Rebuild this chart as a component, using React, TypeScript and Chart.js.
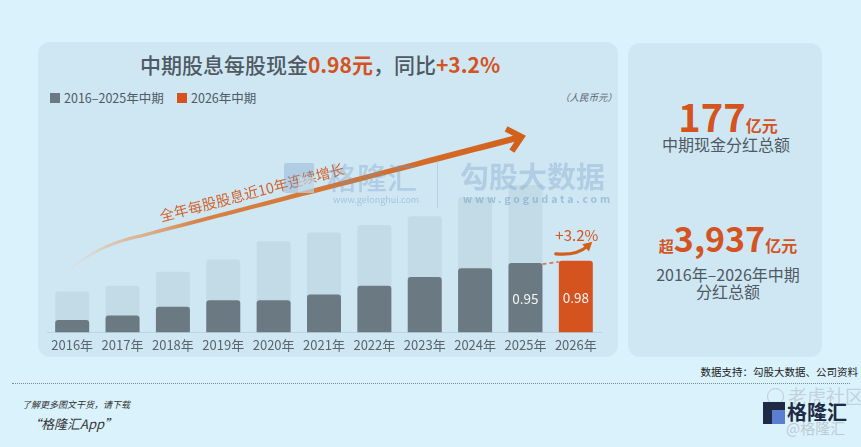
import React, { useEffect, useRef } from 'react';
import { Chart, registerables } from 'chart.js';
Chart.register(...registerables);

// ---------- data ----------
const years = ['2016年', '2017年', '2018年', '2019年', '2020年', '2021年', '2022年', '2023年', '2024年', '2025年', '2026年'];
const interimDps = [0.17, 0.23, 0.35, 0.44, 0.44, 0.52, 0.64, 0.76, 0.88, 0.95, 0.98];
const fullYearDps = [0.56, 0.64, 0.83, 1.0, 1.25, 1.37, 1.47, 1.59, 1.85, 2.02, null];
const labelledIdx = [9, 10];
const yoyText = '+3.2%';
const trendText = '全年每股股息近10年连续增长';
// trend arrow anchors as [category index, value]
const trendStart = [-0.15, 0.78];
const trendCtrl = [0.39, 1.18];
const trendJoin = [1.35, 1.32];
const trendEnd = [8.98, 2.69];
const yMax = 2.8;

// ---------- style ----------
const FONT = '"Noto Sans CJK SC", "Noto Sans", sans-serif';
const BG = '#daf2fc';
const PANEL = '#cfe7f2';
const DARK = '#6b7983';
const LIGHT = '#c3dbe6';
const ORANGE = '#d4531f';
const GRAY_TXT = '#4e5963';
const WM = 'rgba(112,152,200,0.33)';

const annotPlugin = {
  id: 'annot',
  afterDatasetsDraw(chart: any) {
    const { ctx, scales } = chart;
    const xs = scales.x, ys = scales.y;
    const P = (p: number[]) => [xs.getPixelForValue(p[0]), ys.getPixelForValue(p[1])];
    const meta = chart.getDatasetMeta(0);
    ctx.save();

    // ---- trend arrow ----
    const S = P(trendStart), C = P(trendCtrl), J = P(trendJoin), E = P(trendEnd);
    const L = Math.hypot(E[0] - J[0], E[1] - J[1]);
    const d = [(E[0] - J[0]) / L, (E[1] - J[1]) / L];
    const n = [-d[1], d[0]];
    const Ein = [E[0] - 3 * d[0], E[1] - 3 * d[1]];
    const pts: number[][] = [];
    for (let k = 0; k <= 24; k++) {
      const t = k / 24;
      pts.push([
        (1 - t) * (1 - t) * S[0] + 2 * (1 - t) * t * C[0] + t * t * J[0],
        (1 - t) * (1 - t) * S[1] + 2 * (1 - t) * t * C[1] + t * t * J[1],
      ]);
    }
    for (let k = 1; k <= 40; k++) {
      const t = k / 40;
      pts.push([J[0] + (Ein[0] - J[0]) * t, J[1] + (Ein[1] - J[1]) * t]);
    }
    const left: number[][] = [], right: number[][] = [];
    const N = pts.length - 1;
    for (let k = 0; k <= N; k++) {
      const a = pts[Math.max(0, k - 1)], b = pts[Math.min(N, k + 1)];
      const l = Math.hypot(b[0] - a[0], b[1] - a[1]) || 1;
      const nx = -(b[1] - a[1]) / l, ny = (b[0] - a[0]) / l;
      const hw = 0.8 + 2.4 * (k / N);
      left.push([pts[k][0] + nx * hw, pts[k][1] + ny * hw]);
      right.push([pts[k][0] - nx * hw, pts[k][1] - ny * hw]);
    }
    const g = ctx.createLinearGradient(S[0], S[1], E[0], E[1]);
    g.addColorStop(0, 'rgba(236,216,196,0)');
    g.addColorStop(0.1, 'rgba(222,190,160,0.7)');
    g.addColorStop(0.3, 'rgba(214,125,60,0.95)');
    g.addColorStop(1, '#d2601a');
    ctx.beginPath();
    left.forEach((p, i) => (i ? ctx.lineTo(p[0], p[1]) : ctx.moveTo(p[0], p[1])));
    for (let i = right.length - 1; i >= 0; i--) ctx.lineTo(right[i][0], right[i][1]);
    ctx.closePath();
    ctx.fillStyle = g;
    ctx.fill();
    // head
    ctx.beginPath();
    ctx.moveTo(Ein[0] - 13 * d[0] - 11.5 * n[0], Ein[1] - 13 * d[1] - 11.5 * n[1]);
    ctx.lineTo(Ein[0], Ein[1]);
    ctx.lineTo(Ein[0] - 13 * d[0] + 11.5 * n[0], Ein[1] - 13 * d[1] + 11.5 * n[1]);
    ctx.lineWidth = 6;
    ctx.lineJoin = 'miter';
    ctx.strokeStyle = '#d2601a';
    ctx.stroke();

    // text along arrow
    const Q = [J[0] + (E[0] - J[0]) * 0.3 - 14 * n[0], J[1] + (E[1] - J[1]) * 0.3 - 14 * n[1]];
    ctx.save();
    ctx.translate(Q[0], Q[1]);
    ctx.rotate(Math.atan2(d[1], d[0]));
    ctx.font = `14.5px ${FONT}`;
    ctx.fillStyle = '#d3622c';
    ctx.textAlign = 'center';
    ctx.textBaseline = 'middle';
    ctx.fillText(trendText, 0, 0);
    ctx.restore();

    // ---- value labels ----
    ctx.font = `13.5px ${FONT}`;
    ctx.fillStyle = '#f3f5f6';
    ctx.textAlign = 'center';
    ctx.textBaseline = 'middle';
    labelledIdx.forEach((i) => {
      const el = meta.data[i];
      ctx.fillText(interimDps[i].toFixed(2), el.x, (el.y + el.base) / 2 + 1);
    });

    // ---- dashed connector ----
    const a = meta.data[labelledIdx[0]], b = meta.data[labelledIdx[1]];
    ctx.beginPath();
    ctx.setLineDash([4, 3]);
    ctx.moveTo(a.x + a.width / 2, a.y + 1);
    ctx.lineTo(b.x - b.width / 2, b.y + 1);
    ctx.lineWidth = 1.8;
    ctx.strokeStyle = 'rgba(205,105,65,0.85)';
    ctx.stroke();
    ctx.setLineDash([]);

    // ---- +3.2% with swoosh ----
    ctx.font = `15px ${FONT}`;
    ctx.fillStyle = ORANGE;
    ctx.fillText(yoyText, b.x + 1, b.y - 26);
    const T = [b.x - 20, b.y - 7], K = [b.x + 12, b.y - 15], Cc = [b.x + 1, b.y - 5];
    ctx.beginPath();
    ctx.moveTo(T[0], T[1]);
    ctx.quadraticCurveTo(Cc[0], Cc[1], K[0], K[1]);
    ctx.lineWidth = 3.2;
    ctx.lineCap = 'round';
    ctx.strokeStyle = '#d2601a';
    ctx.stroke();
    const hd = [K[0] - Cc[0], K[1] - Cc[1]];
    const hl = Math.hypot(hd[0], hd[1]);
    const u = [hd[0] / hl, hd[1] / hl], v = [-u[1], u[0]];
    ctx.beginPath();
    ctx.moveTo(K[0] + 6 * u[0], K[1] + 6 * u[1]);
    ctx.lineTo(K[0] - 3 * u[0] + 5 * v[0], K[1] - 3 * u[1] + 5 * v[1]);
    ctx.lineTo(K[0] - 3 * u[0] - 5 * v[0], K[1] - 3 * u[1] - 5 * v[1]);
    ctx.closePath();
    ctx.fillStyle = '#d2601a';
    ctx.fill();

    ctx.restore();
  },
};

export default function App() {
  const ref = useRef<HTMLCanvasElement>(null);
  useEffect(() => {
    const chart = new Chart(ref.current as HTMLCanvasElement, {
      type: 'bar',
      data: {
        labels: years,
        datasets: [
          {
            label: '中期',
            data: interimDps,
            backgroundColor: interimDps.map((_, i) => (i === years.length - 1 ? ORANGE : DARK)),
            grouped: false,
            order: 1,
            borderRadius: 3,
            categoryPercentage: 0.675,
            barPercentage: 1,
          } as any,
          {
            label: '全年',
            data: fullYearDps,
            backgroundColor: LIGHT,
            grouped: false,
            order: 2,
            borderRadius: 3,
            categoryPercentage: 0.675,
            barPercentage: 1,
          } as any,
        ],
      },
      options: {
        animation: false,
        responsive: false,
        maintainAspectRatio: false,
        layout: { padding: { top: 8, bottom: 2, left: 9, right: 17 } },
        plugins: { legend: { display: false }, tooltip: { enabled: false } },
        scales: {
          x: {
            grid: { display: false, drawTicks: false },
            border: { display: true, color: 'rgba(180,205,218,0.7)', width: 1 },
            ticks: { color: '#5a646c', font: { size: 13, family: FONT }, padding: 5 },
          },
          y: { display: false, min: 0, max: yMax },
        },
      },
      plugins: [annotPlugin],
    });
    return () => chart.destroy();
  }, []);

  const abs = (s: React.CSSProperties): React.CSSProperties => ({ position: 'absolute', whiteSpace: 'nowrap', ...s });

  return (
    <div style={{ position: 'absolute', left: 0, top: 0, width: 861, height: 447, background: BG, overflow: 'hidden', fontFamily: FONT }}>
      {/* left panel */}
      <div style={abs({ left: 38, top: 42, width: 580, height: 315, background: PANEL, borderRadius: 12 })} />
      {/* right panel */}
      <div style={abs({ left: 628, top: 43, width: 194, height: 314, background: PANEL, borderRadius: 12 })} />

      {/* title */}
      <div style={abs({ left: 0, width: 640, top: 50, textAlign: 'center', fontSize: 21, lineHeight: '28px', fontWeight: 500, color: GRAY_TXT })}>
        中期股息每股现金<span style={{ color: ORANGE, fontWeight: 700 }}>0.98元</span>，同比<span style={{ color: ORANGE, fontWeight: 700 }}>+3.2%</span>
      </div>

      {/* legend */}
      <div style={abs({ left: 50, top: 93, width: 10, height: 10, background: DARK })} />
      <div style={abs({ left: 64, top: 90, fontSize: 12.5, lineHeight: '16px', color: GRAY_TXT })}>2016–2025年中期</div>
      <div style={abs({ left: 177, top: 93, width: 10, height: 10, background: ORANGE })} />
      <div style={abs({ left: 191, top: 90, fontSize: 12.5, lineHeight: '16px', color: GRAY_TXT })}>2026年中期</div>
      <div style={abs({ left: 560, top: 90, fontSize: 9.5, lineHeight: '14px', color: '#5a646c', fontStyle: 'italic' })}>（人民币元）</div>

      {/* chart */}
      <canvas ref={ref} width={580} height={240} style={{ position: 'absolute', left: 38, top: 120, width: 580, height: 240 }} />

      {/* watermarks */}
      <div style={abs({ left: 284, top: 163, width: 30, height: 30, background: WM, borderRadius: 2 })} />
      <div style={abs({ left: 298, top: 177, width: 16, height: 16, background: 'rgba(207,231,242,0.55)' })} />
      <div style={abs({ left: 327, top: 160, fontSize: 30, lineHeight: '32px', color: WM, fontWeight: 500 })}>格隆汇</div>
      <div style={abs({ left: 333, top: 194, fontSize: 9, lineHeight: '11px', color: 'rgba(112,152,200,0.45)' })}>www.gelonghui.com</div>
      <div style={abs({ left: 437, top: 160, width: 1, height: 48, background: 'rgba(140,175,210,0.4)' })} />
      <div style={abs({ left: 460, top: 160, fontSize: 29, lineHeight: '30px', color: WM, fontWeight: 700 })}>勾股大数据</div>
      <div style={abs({ left: 463, top: 193, fontSize: 10.5, lineHeight: '12px', color: 'rgba(112,152,200,0.5)', fontWeight: 700, letterSpacing: 2.9 })}>www.gogudata.com</div>

      {/* right panel text */}
      <div style={abs({ left: 628, width: 200, top: 97, textAlign: 'center', lineHeight: '38px', color: ORANGE, fontWeight: 700 })}>
        <span style={{ fontSize: 38 }}>177</span>
        <span style={{ fontSize: 16 }}>亿元</span>
      </div>
      <div style={abs({ left: 628, width: 196, top: 134, textAlign: 'center', fontSize: 16, lineHeight: '20px', color: GRAY_TXT })}>中期现金分红总额</div>
      <div style={abs({ left: 628, width: 200, top: 221, textAlign: 'center', lineHeight: '34px', color: ORANGE, fontWeight: 700 })}>
        <span style={{ fontSize: 15 }}>超</span>
        <span style={{ fontSize: 34 }}>3,937</span>
        <span style={{ fontSize: 16 }}>亿元</span>
      </div>
      <div style={abs({ left: 628, width: 200, top: 264, textAlign: 'center', fontSize: 16, lineHeight: '20px', color: GRAY_TXT })}>2016年–2026年中期</div>
      <div style={abs({ left: 628, width: 200, top: 281, textAlign: 'center', fontSize: 16, lineHeight: '20px', color: GRAY_TXT })}>分红总额</div>

      {/* footer */}
      <div style={abs({ right: 3, top: 365, fontSize: 10.5, lineHeight: '14px', color: '#222' })}>数据支持：勾股大数据、公司资料</div>
      <div style={abs({ left: 12, top: 383, width: 838, height: 0, borderTop: '1px dotted #7d8a90' })} />
      <div style={abs({ left: 22, top: 399, fontSize: 9, lineHeight: '12px', color: '#333', fontStyle: 'italic' })}>了解更多图文干货，请下载</div>
      <div style={abs({ left: 28, top: 416, fontSize: 13, lineHeight: '16px', color: '#333', fontStyle: 'italic' })}>“格隆汇App”</div>

      {/* bottom-right logo */}
      <div style={abs({ left: 767, top: 388, width: 15, height: 15, borderRadius: '50%', border: '1.5px solid rgba(170,175,185,0.6)' })} />
      <div style={abs({ left: 788, top: 384, fontSize: 19, lineHeight: '24px', color: 'rgba(175,180,190,0.55)' })}>老虎社区</div>
      <div style={abs({ left: 763, top: 402, width: 22, height: 22, background: '#1f2a44' })} />
      <div style={abs({ left: 772, top: 410, width: 13, height: 14, background: '#5b7fd0' })} />
      <div style={abs({ left: 787, top: 399, fontSize: 20, lineHeight: '26px', color: '#1f2a44', fontWeight: 700 })}>格隆汇</div>
      <div style={abs({ left: 786, top: 418, fontSize: 15, lineHeight: '20px', color: 'rgba(170,175,185,0.6)' })}>@格隆汇</div>
    </div>
  );
}
